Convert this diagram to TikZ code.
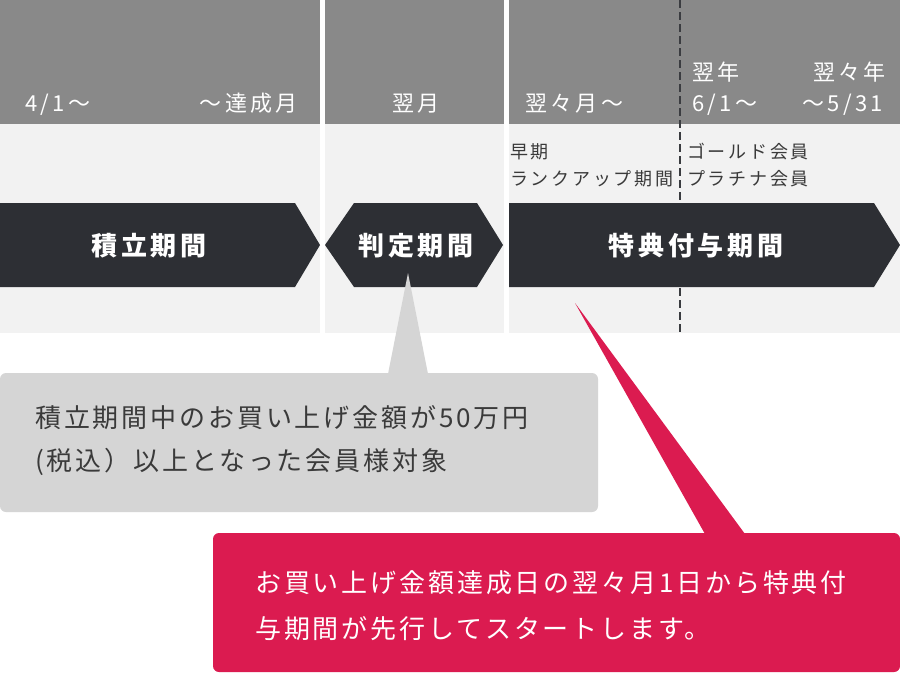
\documentclass[tikz,border=0pt]{standalone}
\usepackage{fontspec}
\setmainfont{Noto Sans CJK JP}[LetterSpace=15]
\definecolor{hdr}{HTML}{898989}
\definecolor{lite}{HTML}{F2F2F2}
\definecolor{darkbar}{HTML}{2D2F34}
\definecolor{callgray}{HTML}{D5D5D5}
\definecolor{callpink}{HTML}{DB1B50}
\definecolor{txtdark}{HTML}{3A3A3A}
\definecolor{dashc}{HTML}{3A3C40}
\tikzset{
  hdrtxt/.style={inner sep=0pt, text=white, font=\fontsize{22}{26}\selectfont},
  subtxt/.style={inner sep=0pt, text=txtdark, font=\fontsize{18}{22}\selectfont},
  bartxt/.style={inner sep=0pt, text=white, font=\bfseries\fontsize{26}{30}\selectfont},
  graytxt/.style={inner sep=0pt, text=txtdark, font=\addfontfeature{LetterSpace=11}\fontsize{26}{30}\selectfont},
  pinktxt/.style={inner sep=0pt, text=white, font=\addfontfeature{LetterSpace=11}\fontsize{26}{30}\selectfont},
  colhdr/.style={fill=hdr, draw=none},
  colbody/.style={fill=lite, draw=none},
  barshape/.style={fill=darkbar, draw=none},
}
\begin{document}
\begin{tikzpicture}[x=1pt,y=-1pt]
\useasboundingbox[fill=white] (0,0) rectangle (900,673);
% columns
\fill[colbody] (0,124) rectangle (320,333);
\fill[colbody] (325,124) rectangle (504,333);
\fill[colbody] (509,124) rectangle (900,333);
\fill[colhdr] (0,0) rectangle (320,124);
\fill[colhdr] (325,0) rectangle (504,124);
\fill[colhdr] (509,0) rectangle (900,124);
% dashed divider
\coordinate (dtop) at (680,0);
\coordinate (dbot) at (680,333);
\draw[dashc, line width=1.8pt, dash pattern=on 8pt off 4pt] (dtop) -- (dbot);
% bars
\fill[barshape] (0,203) -- (295,203) -- (320,245) -- (295,287) -- (0,287) -- cycle;
\fill[barshape] (325,245) -- (354,203) -- (477,203) -- (503,245) -- (477,287) -- (354,287) -- cycle;
\fill[barshape] (509,203) -- (874,203) -- (900,245) -- (874,287) -- (509,287) -- cycle;
% header texts
\node[hdrtxt, anchor=base west] (h1a) at (25,111) {4/1〜};
\node[hdrtxt, anchor=base east] (h1b) at (298,111) {〜達成月};
\node[hdrtxt, anchor=base] (h2) at (416,111) {翌月};
\node[hdrtxt, anchor=base west] (h3a) at (525,111) {翌々月〜};
\node[hdrtxt, anchor=base west] (h3b) at (692,80) {翌年};
\node[hdrtxt, anchor=base west] (h3c) at (692,111) {6/1〜};
\node[hdrtxt, anchor=base east] (h3d) at (886,80) {翌々年};
\node[hdrtxt, anchor=base east] (h3e) at (883,111) {〜5/31};
% sub texts
\node[subtxt, anchor=base west] (s1) at (510,158) {早期};
\node[subtxt, anchor=base west] (s2) at (510,185) {ランクアップ期間};
\node[subtxt, anchor=base west] (s3) at (687,158) {ゴールド会員};
\node[subtxt, anchor=base west] (s4) at (687,185) {プラチナ会員};
% bar labels
\node[bartxt, anchor=base] (b1) at (149,255) {積立期間};
\node[bartxt, anchor=base] (b2) at (416,255) {判定期間};
\node[bartxt, anchor=base] (b3) at (696,255) {特典付与期間};
% gray callout
\fill[callgray, rounded corners=6pt] (0,373) rectangle (598,512);
\fill[callgray] (408,273) -- (428,374) -- (388,374) -- cycle;
\node[graytxt, anchor=base west] (g1) at (35,427) {積立期間中のお買い上げ金額が50万円};
\node[graytxt, anchor=base west] (g2) at (35,470) {(税込）以上となった会員様対象};
% pink callout
\fill[callpink, rounded corners=6pt] (213,533) rectangle (900,672);
\fill[callpink] (575,303) -- (745,534) -- (705,534) -- cycle;
\node[pinktxt, anchor=base west] (p1) at (255,592) {お買い上げ金額達成日の翌々月1日から特典付};
\node[pinktxt, anchor=base west] (p2) at (255,638) {与期間が先行してスタートします。};
\end{tikzpicture}
\end{document}
